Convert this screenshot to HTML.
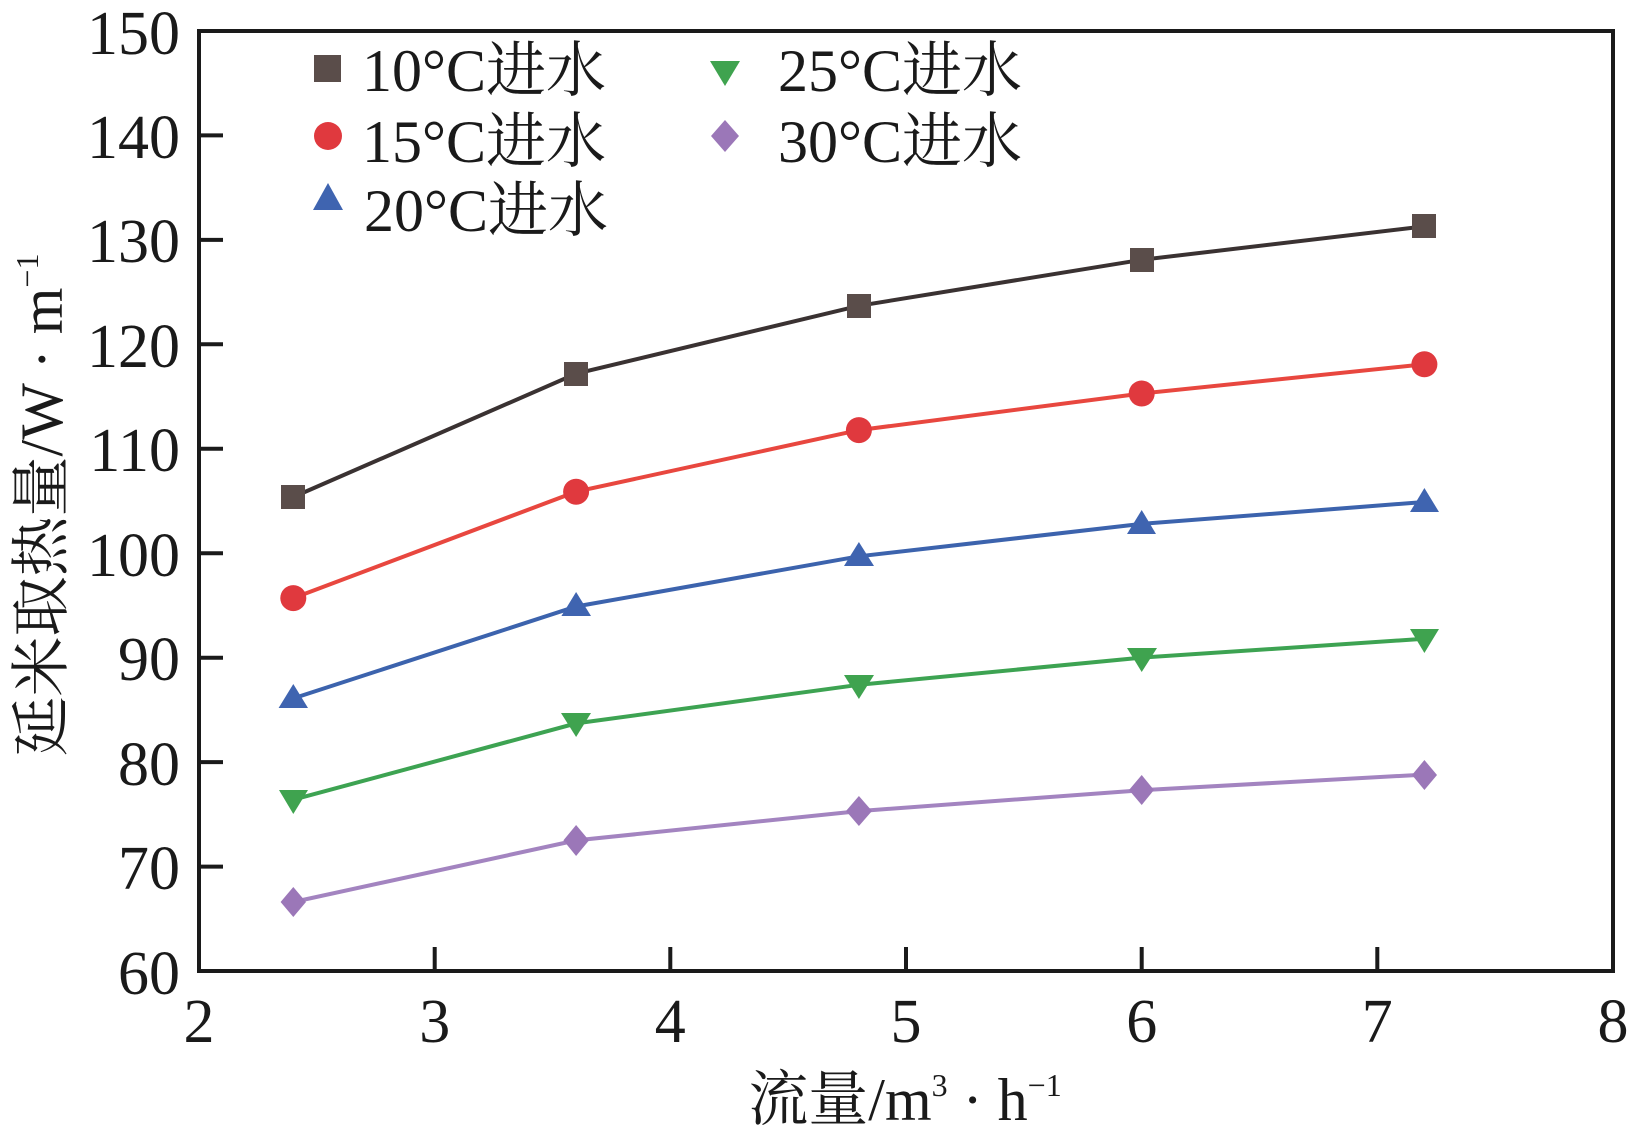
<!DOCTYPE html>
<html><head><meta charset="utf-8"><style>
html,body{margin:0;padding:0;background:#fff}
svg{display:block}
text{font-family:"Liberation Serif","Noto Serif CJK SC",serif;fill:#1a1a1a}
</style></head><body>
<svg width="1640" height="1137" viewBox="0 0 1640 1137" xmlns="http://www.w3.org/2000/svg">
<rect width="1640" height="1137" fill="#fff"/>
<rect x="199" y="31" width="1414" height="940" fill="none" stroke="#1a1a1a" stroke-width="4"/>
<g stroke="#1a1a1a" stroke-width="4">
<line x1="199" y1="135.4" x2="223" y2="135.4"/><line x1="199" y1="239.9" x2="223" y2="239.9"/>
<line x1="199" y1="344.3" x2="223" y2="344.3"/><line x1="199" y1="448.8" x2="223" y2="448.8"/>
<line x1="199" y1="553.2" x2="223" y2="553.2"/><line x1="199" y1="657.7" x2="223" y2="657.7"/>
<line x1="199" y1="762.1" x2="223" y2="762.1"/><line x1="199" y1="866.6" x2="223" y2="866.6"/>
<line x1="434.7" y1="971" x2="434.7" y2="947"/><line x1="670.3" y1="971" x2="670.3" y2="947"/>
<line x1="906" y1="971" x2="906" y2="947"/><line x1="1141.7" y1="971" x2="1141.7" y2="947"/>
<line x1="1377.3" y1="971" x2="1377.3" y2="947"/>
</g>
<g font-size="62" text-anchor="end">
<text x="180" y="54">150</text><text x="180" y="158">140</text><text x="180" y="262">130</text>
<text x="180" y="367">120</text><text x="180" y="471">110</text><text x="180" y="576">100</text>
<text x="180" y="680">90</text><text x="180" y="785">80</text><text x="180" y="889">70</text>
<text x="180" y="994">60</text>
</g>
<g font-size="62" text-anchor="middle">
<text x="199" y="1042">2</text><text x="434.7" y="1042">3</text><text x="670.3" y="1042">4</text>
<text x="906" y="1042">5</text><text x="1141.7" y="1042">6</text><text x="1377.3" y="1042">7</text>
<text x="1613" y="1042">8</text>
</g>
<text x="905" y="1120" font-size="60" text-anchor="middle">流量/m<tspan font-size="32" dy="-24">3</tspan><tspan dy="24"> · h</tspan><tspan font-size="32" dy="-24">−1</tspan></text>
<text transform="translate(62,505) rotate(-90)" font-size="60" text-anchor="middle">延米取热量/W · m<tspan font-size="32" dy="-24">−1</tspan></text>

<polyline fill="none" stroke="#3a3232" stroke-width="4" points="293.3,497 576.1,373.7 858.9,305.8 1141.7,259.8 1424.4,226.4"/>
<g fill="#5a4d4a"><rect x="281" y="485" width="24" height="24"/><rect x="564" y="362" width="24" height="24"/><rect x="847" y="294" width="24" height="24"/><rect x="1130" y="248" width="24" height="24"/><rect x="1412" y="214" width="24" height="24"/></g>

<polyline fill="none" stroke="#e8473f" stroke-width="4" points="293.3,598.1 576.1,491.7 858.9,430.1 1141.7,393.5 1424.4,364.3"/>
<g fill="#e0393e"><circle cx="293.3" cy="598.1" r="13"/><circle cx="576.1" cy="491.7" r="13"/><circle cx="858.9" cy="430.1" r="13"/><circle cx="1141.7" cy="393.5" r="13"/><circle cx="1424.4" cy="364.3" r="13"/></g>

<polyline fill="none" stroke="#3c63ad" stroke-width="4" points="293.3,698.4 576.1,606.5 858.9,556.3 1141.7,523.9 1424.4,502"/>
<g fill="#3f64b0"><polygon points="293.3,684 308,708 278.6,708"/><polygon points="576.1,592 591,616 561.4,616"/><polygon points="858.9,542 874,566 844,566"/><polygon points="1141.7,510 1156,534 1127,534"/><polygon points="1424.4,488 1439,512 1410,512"/></g>

<polyline fill="none" stroke="#3da352" stroke-width="4" points="293.3,799.7 576.1,723.4 858.9,684.8 1141.7,657.6 1424.4,638.8"/>
<g fill="#3fa34f"><polygon points="279,790 308,790 293.3,814"/><polygon points="561,713 591,713 576.1,737"/><polygon points="844,675 874,675 858.9,699"/><polygon points="1127,648 1157,648 1141.7,672"/><polygon points="1410,629 1439,629 1424.4,653"/></g>

<polyline fill="none" stroke="#a384c0" stroke-width="4" points="293.3,902 576.1,840.4 858.9,811.1 1141.7,790.2 1424.4,774.6"/>
<g fill="#9b77b8"><polygon points="293.3,887 306,902 293.3,917 280.6,902"/><polygon points="576.1,825 589,840.4 576.1,856 563.4,840.4"/><polygon points="858.9,796 872,811 858.9,826 846,811"/><polygon points="1141.7,775 1154,790 1141.7,805 1129,790"/><polygon points="1424.4,760 1437,775 1424.4,790 1412,775"/></g>

<rect x="314" y="55" width="27" height="27" fill="#5a4d4a"/>
<circle cx="328" cy="136" r="14" fill="#e0393e"/>
<polygon points="328,183 343,210 313,210" fill="#3f64b0"/>
<polygon points="710,61 740,61 725,86" fill="#3fa34f"/>
<polygon points="725,120 739,136 725,152 711,136" fill="#9b77b8"/>
<g font-size="60">
<text x="362" y="91">10°C进水</text>
<text x="362" y="162">15°C进水</text>
<text x="364" y="231">20°C进水</text>
<text x="778" y="91">25°C进水</text>
<text x="778" y="162">30°C进水</text>
</g>
</svg>
</body></html>
